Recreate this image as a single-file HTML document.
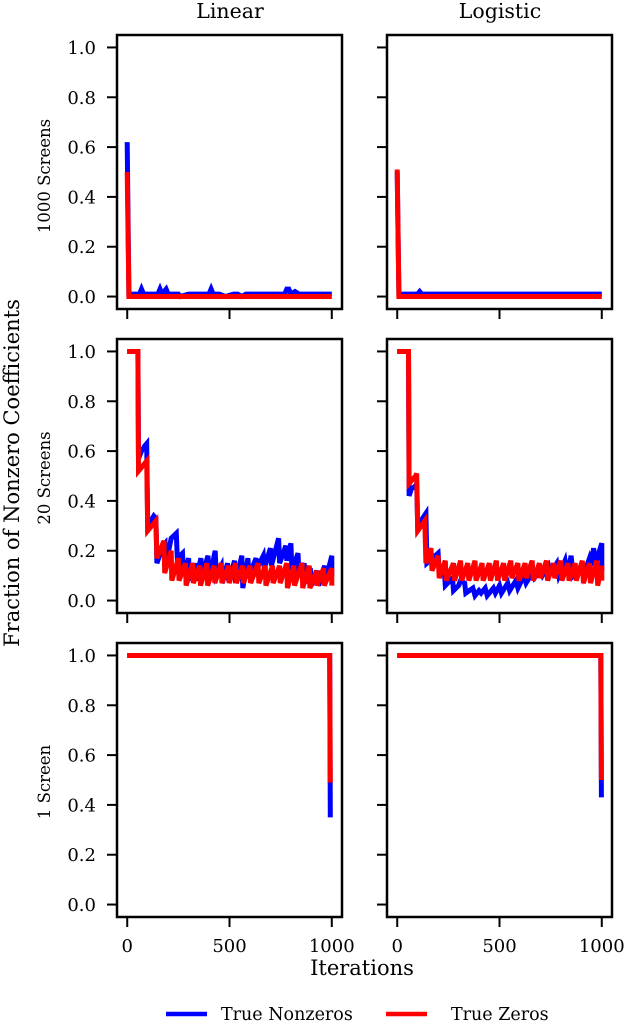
<!DOCTYPE html>
<html><head><meta charset="utf-8">
<style>
html,body{margin:0;padding:0;background:#fff;}
svg{display:block;}
.tk{font-family:"DejaVu Serif","Liberation Serif",serif;font-size:18px;fill:#000;}
.sf{font-family:"DejaVu Serif","Liberation Serif",serif;fill:#000;}
</style></head>
<body>
<svg id="fig" width="628" height="1024" viewBox="0 0 628 1024" xmlns="http://www.w3.org/2000/svg">
<text class="sf" x="230" y="18" font-size="20.5" text-anchor="middle">Linear</text>
<text class="sf" x="500" y="18" font-size="20.5" text-anchor="middle">Logistic</text>
<text class="sf" x="50" y="176" font-size="16.5" text-anchor="middle" transform="rotate(-90 50 176)">1000 Screens</text>
<text class="sf" x="50" y="478" font-size="16.5" text-anchor="middle" transform="rotate(-90 50 478)">20 Screens</text>
<text class="sf" x="50" y="782" font-size="16.5" text-anchor="middle" transform="rotate(-90 50 782)">1 Screen</text>
<text class="sf" x="19" y="473" font-size="21" text-anchor="middle" transform="rotate(-90 19 473)">Fraction of Nonzero Coefficients</text>
<text class="sf" x="362" y="975" font-size="21" text-anchor="middle">Iterations</text>
<g>
<line x1="166" y1="1014" x2="207" y2="1014" stroke="#0000ff" stroke-width="4.5"/>
<text class="sf" x="221" y="1020" font-size="17.5">True Nonzeros</text>
<line x1="386" y1="1014" x2="427" y2="1014" stroke="#ff0000" stroke-width="4.5"/>
<text class="sf" x="451" y="1020" font-size="17.5">True Zeros</text>
</g>
</svg>
<script>
const yTicks=[0,0.2,0.4,0.6,0.8,1.0];
const yTickLabels=["0.0","0.2","0.4","0.6","0.8","1.0"];
const xTicks=[0,500,1000];
const xTickLabels=["0","500","1000"];
const lin1000BlueX=[0,0,8,60,70,80,150,160,170,190,200,250,260,300,400,410,420,450,480,520,540,560,580,600,700,770,780,790,800,820,840,860,900,1000];
const lin1000BlueY=[0.62,0.62,0.01,0.01,0.03,0.01,0.01,0.03,0.01,0.03,0.01,0.01,0.0,0.01,0.01,0.03,0.01,0.01,0.0,0.01,0.01,0.0,0.01,0.01,0.01,0.01,0.03,0.03,0.01,0.02,0.01,0.01,0.01,0.01];
const lin1000RedX=[0,0,8,1000];
const lin1000RedY=[0.5,0.5,0.0,0.0];
const log1000BlueX=[0,0,8,60,100,110,120,200,300,400,500,600,700,800,900,1000];
const log1000BlueY=[0.5,0.5,0.01,0.01,0.01,0.02,0.01,0.01,0.01,0.01,0.01,0.01,0.01,0.01,0.01,0.01];
const log1000RedX=[0,0,8,1000];
const log1000RedY=[0.51,0.51,0.0,0.0];
const lin20BlueX=[0,52,55,70,85,95,100,130,140,145,175,185,190,215,240,245,270,275,300,305,330,335,360,365,395,400,430,435,460,465,490,495,525,530,560,565,590,595,630,635,665,670,700,705,740,745,775,780,800,805,835,840,865,870,895,900,930,935,965,970,1000,1000];
const lin20BlueY=[1,1,0.57,0.6,0.62,0.63,0.3,0.34,0.33,0.15,0.22,0.23,0.15,0.25,0.27,0.17,0.19,0.1,0.17,0.08,0.15,0.08,0.17,0.1,0.18,0.08,0.2,0.1,0.14,0.07,0.15,0.08,0.16,0.07,0.18,0.05,0.17,0.1,0.17,0.13,0.18,0.13,0.21,0.14,0.25,0.15,0.22,0.16,0.23,0.12,0.19,0.1,0.15,0.07,0.13,0.06,0.12,0.06,0.14,0.08,0.18,0.1];
const lin20RedX=[0,52,55,95,100,140,145,180,183,215,218,250,253,285,288,320,323,355,358,390,393,425,428,460,463,495,498,530,533,565,568,600,603,640,643,675,678,710,713,745,748,780,783,815,818,855,858,890,893,925,928,960,963,1000,1000];
const lin20RedY=[1,1,0.52,0.56,0.28,0.32,0.17,0.24,0.11,0.2,0.08,0.17,0.08,0.15,0.06,0.15,0.07,0.14,0.06,0.15,0.06,0.14,0.07,0.15,0.07,0.14,0.07,0.15,0.07,0.14,0.07,0.14,0.07,0.15,0.07,0.14,0.06,0.14,0.07,0.14,0.07,0.15,0.05,0.14,0.06,0.15,0.05,0.14,0.05,0.12,0.06,0.13,0.06,0.13,0.06];
const log20BlueX=[0,55,58,70,90,95,100,140,145,200,205,230,235,270,275,300,310,330,335,370,380,400,410,430,440,470,480,500,510,540,550,580,590,620,630,660,670,700,710,740,750,780,790,820,830,850,860,900,910,940,950,960,970,1000,1000];
const log20BlueY=[1,1,0.42,0.45,0.46,0.47,0.3,0.35,0.15,0.19,0.12,0.12,0.06,0.09,0.04,0.06,0.08,0.07,0.03,0.05,0.02,0.04,0.03,0.05,0.02,0.05,0.03,0.06,0.03,0.07,0.04,0.08,0.05,0.1,0.07,0.11,0.09,0.12,0.1,0.14,0.11,0.15,0.1,0.16,0.1,0.18,0.1,0.14,0.1,0.17,0.14,0.21,0.15,0.23,0.12];
const log20RedX=[0,55,58,90,95,100,135,140,165,170,200,205,235,240,275,280,310,315,345,350,380,385,415,420,450,455,485,490,520,525,555,560,590,595,625,630,660,665,695,700,730,735,765,770,800,805,835,840,870,875,905,910,940,945,975,980,1000,1000];
const log20RedY=[1,1,0.47,0.5,0.51,0.28,0.32,0.15,0.21,0.12,0.18,0.09,0.16,0.08,0.15,0.08,0.16,0.08,0.15,0.08,0.16,0.08,0.15,0.08,0.15,0.08,0.16,0.08,0.15,0.08,0.16,0.09,0.15,0.08,0.15,0.09,0.16,0.08,0.15,0.09,0.16,0.08,0.15,0.09,0.16,0.08,0.15,0.08,0.15,0.08,0.16,0.07,0.15,0.07,0.16,0.06,0.14,0.08];
const lin1BlueX=[0,990,993,993];
const lin1BlueY=[1,1,0.35,0.35];
const lin1RedX=[0,990,993];
const lin1RedY=[1,1,0.49];
const log1BlueX=[0,995,998];
const log1BlueY=[1,1,0.43];
const log1RedX=[0,995,998];
const log1RedY=[1,1,0.5];

const NS="http://www.w3.org/2000/svg";
const svg=document.getElementById('fig');
const cols=[{l:117,r:342,n:'linear'},{l:387,r:612,n:'logistic'}];
const rows=[{t:35,b:309,n:'1000-screens'},{t:339,b:613,n:'20-screens'},{t:643,b:917,n:'1-screen'}];
const series=[
 [[lin1000BlueX,lin1000BlueY,lin1000RedX,lin1000RedY],[log1000BlueX,log1000BlueY,log1000RedX,log1000RedY]],
 [[lin20BlueX,lin20BlueY,lin20RedX,lin20RedY],[log20BlueX,log20BlueY,log20RedX,log20RedY]],
 [[lin1BlueX,lin1BlueY,lin1RedX,lin1RedY],[log1BlueX,log1BlueY,log1RedX,log1RedY]]];
function mk(tag,attrs,parent){const e=document.createElementNS(NS,tag);for(const k in attrs)e.setAttribute(k,attrs[k]);(parent||svg).appendChild(e);return e;}
rows.forEach((row,ri)=>{cols.forEach((col,ci)=>{
  const xs=v=>col.l+(v+50)/1100*(col.r-col.l);
  const ys=v=>row.b-(v+0.05)/1.1*(row.b-row.t);
  const g=mk('g',{});
  
  
  const s=series[ri][ci];
  [[s[0],s[1],'#0000ff','true-nonzeros'],[s[2],s[3],'#ff0000','true-zeros']].forEach(([X,Y,c,nm])=>{
    const pts=X.map((x,i)=>xs(x).toFixed(1)+','+ys(Y[i]).toFixed(1)).join(' ');
    const p=mk('polyline',{points:pts,fill:'none',stroke:c,'stroke-width':5,'stroke-linejoin':'miter'},g);
    
    
  });
  const fr=mk('rect',{x:col.l,y:row.t,width:col.r-col.l,height:row.b-row.t,fill:'none',stroke:'#000','stroke-width':2.5},g);
  
  
  yTicks.forEach((v,i)=>{
    const y=ys(v);
    mk('line',{x1:col.l-10,x2:col.l,y1:y,y2:y,stroke:'#000','stroke-width':2},g);
    if(ci===0){const t=mk('text',{x:col.l-21,y:y+6.5,'text-anchor':'end',class:'tk'},g);t.textContent=yTickLabels[i];
      
      }
  });
  xTicks.forEach((v,i)=>{
    const x=xs(v);
    mk('line',{x1:x,x2:x,y1:row.b,y2:row.b+10,stroke:'#000','stroke-width':2},g);
    if(ri===2){const t=mk('text',{x:x,y:row.b+35,'text-anchor':'middle',class:'tk'},g);t.textContent=xTickLabels[i];
      
      }
  });
});});
</script>
</body></html>
